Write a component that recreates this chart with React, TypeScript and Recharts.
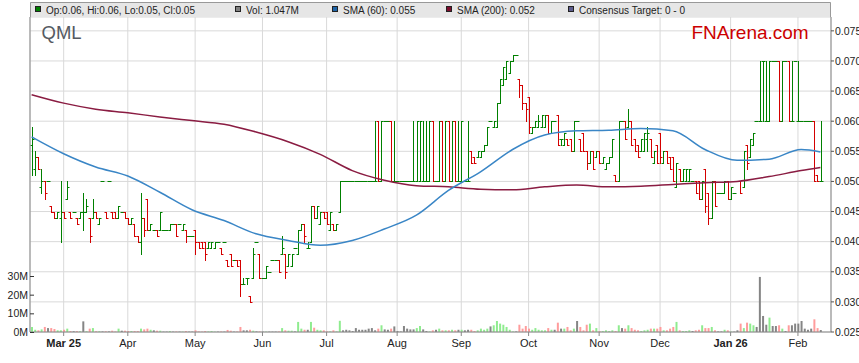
import React from "react";
import { ComposedChart, Bar, Line, XAxis, YAxis, CartesianGrid, Cell } from "recharts";

// QML daily bars, Feb 2025 - Feb 2026 (prices in $, volume in millions of shares)
const opens = [
  0.056, 0.052, 0.054, 0.049, 0.050, 0.050, 0.046, 0.045, 0.044, 0.044,
  0.045, 0.047, 0.045, 0.045, 0.044, 0.044, 0.045, 0.045, 0.044, 0.044,
  0.045, 0.043, 0.050, 0.045, 0.050, 0.045, 0.045, 0.044, 0.045, 0.045,
  0.044, 0.043, 0.043, 0.041, 0.040, 0.044, 0.047, 0.042, 0.042, 0.042,
  0.042, 0.042, 0.042, 0.042, 0.043, 0.043, 0.043, 0.042, 0.042, 0.041,
  0.041, 0.042, 0.040, 0.040, 0.040, 0.039, 0.039, 0.039, 0.040, 0.039,
  0.040, 0.037, 0.038, 0.037, 0.037, 0.037, 0.033, 0.034, 0.031, 0.034,
  0.040, 0.038, 0.034, 0.034, 0.035, 0.037, 0.037, 0.037, 0.038, 0.038,
  0.036, 0.036, 0.039, 0.038, 0.042, 0.043, 0.039, 0.040, 0.046, 0.044,
  0.043, 0.045, 0.045, 0.042, 0.043, 0.042, 0.045, 0.050, 0.050, 0.050,
  0.050, 0.050, 0.050, 0.050, 0.050, 0.050, 0.050, 0.050, 0.060, 0.050,
  0.060, 0.060, 0.060, 0.050, 0.050, 0.050, 0.050, 0.050, 0.050, 0.050,
  0.050, 0.050, 0.050, 0.050, 0.050, 0.060, 0.050, 0.050, 0.060, 0.050,
  0.060, 0.050, 0.060, 0.050, 0.050, 0.050, 0.050, 0.055, 0.054, 0.054,
  0.054, 0.055, 0.056, 0.060, 0.059, 0.059, 0.063, 0.066, 0.067, 0.068,
  0.070, 0.071, 0.067, 0.066, 0.063, 0.064, 0.058, 0.059, 0.059, 0.059,
  0.059, 0.061, 0.058, 0.060, 0.061, 0.057, 0.056, 0.057, 0.057, 0.055,
  0.060, 0.057, 0.058, 0.055, 0.053, 0.055, 0.054, 0.055, 0.053, 0.052,
  0.053, 0.054, 0.051, 0.050, 0.060, 0.060, 0.059, 0.060, 0.057, 0.056,
  0.055, 0.055, 0.057, 0.057, 0.053, 0.056, 0.058, 0.053, 0.055, 0.054,
  0.054, 0.049, 0.052, 0.050, 0.050, 0.050, 0.050, 0.050, 0.050, 0.047,
  0.052, 0.048, 0.044, 0.050, 0.048, 0.048, 0.048, 0.050, 0.047, 0.048,
  0.050, 0.050, 0.049, 0.056, 0.054, 0.056, 0.060, 0.060, 0.070, 0.060,
  0.060, 0.070, 0.070, 0.070, 0.060, 0.070, 0.070, 0.060, 0.070, 0.060,
  0.060, 0.060, 0.060, 0.060, 0.060, 0.051, 0.050,
];
const highs = [
  0.059, 0.055, 0.054, 0.052, 0.050, 0.050, 0.046, 0.045, 0.045, 0.050,
  0.045, 0.050, 0.045, 0.045, 0.044, 0.045, 0.048, 0.047, 0.044, 0.047,
  0.045, 0.044, 0.050, 0.045, 0.050, 0.045, 0.045, 0.046, 0.045, 0.045,
  0.044, 0.044, 0.043, 0.041, 0.048, 0.044, 0.047, 0.043, 0.042, 0.042,
  0.045, 0.042, 0.042, 0.043, 0.043, 0.043, 0.043, 0.043, 0.042, 0.041,
  0.041, 0.042, 0.040, 0.040, 0.040, 0.040, 0.040, 0.040, 0.040, 0.039,
  0.040, 0.037, 0.038, 0.037, 0.037, 0.037, 0.034, 0.034, 0.031, 0.039,
  0.040, 0.038, 0.034, 0.036, 0.035, 0.037, 0.037, 0.037, 0.041, 0.038,
  0.038, 0.038, 0.039, 0.042, 0.043, 0.043, 0.040, 0.046, 0.046, 0.046,
  0.045, 0.045, 0.045, 0.045, 0.043, 0.043, 0.050, 0.050, 0.050, 0.050,
  0.050, 0.050, 0.050, 0.050, 0.050, 0.050, 0.050, 0.060, 0.060, 0.060,
  0.060, 0.060, 0.060, 0.060, 0.050, 0.050, 0.050, 0.050, 0.050, 0.060,
  0.060, 0.060, 0.060, 0.060, 0.060, 0.060, 0.050, 0.060, 0.060, 0.060,
  0.060, 0.060, 0.060, 0.060, 0.060, 0.050, 0.060, 0.055, 0.054, 0.055,
  0.055, 0.056, 0.059, 0.060, 0.060, 0.063, 0.067, 0.069, 0.070, 0.070,
  0.071, 0.071, 0.067, 0.066, 0.063, 0.064, 0.059, 0.060, 0.061, 0.061,
  0.061, 0.061, 0.060, 0.060, 0.061, 0.057, 0.058, 0.057, 0.057, 0.060,
  0.060, 0.057, 0.058, 0.055, 0.055, 0.055, 0.055, 0.055, 0.054, 0.053,
  0.054, 0.057, 0.051, 0.060, 0.060, 0.060, 0.062, 0.060, 0.057, 0.056,
  0.057, 0.058, 0.059, 0.057, 0.055, 0.056, 0.058, 0.055, 0.055, 0.054,
  0.054, 0.053, 0.052, 0.052, 0.052, 0.052, 0.050, 0.050, 0.050, 0.050,
  0.052, 0.048, 0.050, 0.050, 0.048, 0.048, 0.050, 0.050, 0.049, 0.048,
  0.050, 0.050, 0.055, 0.056, 0.057, 0.058, 0.060, 0.070, 0.070, 0.070,
  0.070, 0.070, 0.070, 0.070, 0.070, 0.070, 0.070, 0.070, 0.070, 0.070,
  0.060, 0.060, 0.060, 0.060, 0.060, 0.051, 0.060,
];
const lows = [
  0.051, 0.051, 0.052, 0.048, 0.047, 0.050, 0.045, 0.044, 0.044, 0.040,
  0.044, 0.047, 0.044, 0.045, 0.043, 0.044, 0.042, 0.045, 0.040, 0.044,
  0.044, 0.043, 0.050, 0.044, 0.050, 0.044, 0.044, 0.044, 0.045, 0.044,
  0.043, 0.043, 0.041, 0.040, 0.038, 0.041, 0.042, 0.042, 0.042, 0.041,
  0.042, 0.042, 0.042, 0.042, 0.043, 0.041, 0.043, 0.042, 0.040, 0.041,
  0.041, 0.038, 0.039, 0.039, 0.037, 0.039, 0.039, 0.039, 0.040, 0.038,
  0.040, 0.036, 0.036, 0.037, 0.036, 0.031, 0.033, 0.033, 0.030, 0.034,
  0.040, 0.034, 0.034, 0.034, 0.035, 0.037, 0.037, 0.035, 0.038, 0.034,
  0.036, 0.036, 0.039, 0.038, 0.042, 0.040, 0.039, 0.040, 0.044, 0.044,
  0.043, 0.044, 0.043, 0.042, 0.042, 0.042, 0.045, 0.050, 0.050, 0.050,
  0.050, 0.050, 0.050, 0.050, 0.050, 0.050, 0.050, 0.050, 0.050, 0.050,
  0.060, 0.060, 0.050, 0.050, 0.050, 0.050, 0.050, 0.050, 0.050, 0.050,
  0.050, 0.050, 0.050, 0.050, 0.050, 0.050, 0.050, 0.050, 0.050, 0.050,
  0.050, 0.050, 0.050, 0.050, 0.050, 0.050, 0.050, 0.053, 0.053, 0.054,
  0.054, 0.055, 0.056, 0.060, 0.059, 0.059, 0.063, 0.066, 0.067, 0.068,
  0.070, 0.071, 0.064, 0.062, 0.060, 0.058, 0.058, 0.059, 0.059, 0.059,
  0.059, 0.058, 0.058, 0.060, 0.056, 0.056, 0.056, 0.056, 0.055, 0.055,
  0.060, 0.055, 0.055, 0.052, 0.053, 0.052, 0.054, 0.053, 0.053, 0.052,
  0.053, 0.054, 0.050, 0.050, 0.060, 0.057, 0.059, 0.056, 0.055, 0.054,
  0.055, 0.055, 0.055, 0.054, 0.053, 0.053, 0.053, 0.053, 0.053, 0.052,
  0.050, 0.049, 0.050, 0.050, 0.050, 0.050, 0.050, 0.048, 0.047, 0.047,
  0.045, 0.043, 0.044, 0.046, 0.048, 0.048, 0.048, 0.047, 0.047, 0.048,
  0.050, 0.048, 0.049, 0.052, 0.054, 0.056, 0.060, 0.060, 0.060, 0.060,
  0.060, 0.070, 0.070, 0.060, 0.060, 0.070, 0.060, 0.060, 0.070, 0.060,
  0.060, 0.060, 0.060, 0.060, 0.050, 0.050, 0.050,
];
const closes = [
  0.057, 0.054, 0.052, 0.050, 0.048, 0.050, 0.045, 0.044, 0.045, 0.045,
  0.044, 0.049, 0.044, 0.045, 0.043, 0.045, 0.045, 0.046, 0.041, 0.045,
  0.044, 0.044, 0.050, 0.044, 0.050, 0.044, 0.044, 0.046, 0.045, 0.044,
  0.043, 0.044, 0.041, 0.040, 0.044, 0.042, 0.042, 0.043, 0.042, 0.041,
  0.045, 0.042, 0.042, 0.043, 0.043, 0.041, 0.043, 0.043, 0.041, 0.041,
  0.041, 0.040, 0.039, 0.039, 0.038, 0.040, 0.040, 0.040, 0.040, 0.038,
  0.040, 0.036, 0.036, 0.037, 0.036, 0.033, 0.033, 0.034, 0.030, 0.038,
  0.040, 0.034, 0.034, 0.036, 0.035, 0.037, 0.037, 0.035, 0.039, 0.035,
  0.038, 0.038, 0.039, 0.042, 0.043, 0.041, 0.039, 0.046, 0.044, 0.046,
  0.045, 0.044, 0.043, 0.045, 0.042, 0.043, 0.050, 0.050, 0.050, 0.050,
  0.050, 0.050, 0.050, 0.050, 0.050, 0.050, 0.050, 0.050, 0.050, 0.060,
  0.060, 0.060, 0.050, 0.050, 0.050, 0.050, 0.050, 0.050, 0.050, 0.050,
  0.060, 0.060, 0.050, 0.050, 0.060, 0.050, 0.050, 0.060, 0.050, 0.060,
  0.050, 0.060, 0.050, 0.050, 0.060, 0.050, 0.050, 0.053, 0.053, 0.055,
  0.055, 0.056, 0.059, 0.060, 0.060, 0.063, 0.067, 0.069, 0.070, 0.070,
  0.071, 0.071, 0.066, 0.063, 0.062, 0.059, 0.059, 0.060, 0.060, 0.061,
  0.061, 0.058, 0.060, 0.060, 0.056, 0.057, 0.058, 0.056, 0.055, 0.060,
  0.060, 0.055, 0.055, 0.053, 0.055, 0.052, 0.055, 0.053, 0.054, 0.053,
  0.054, 0.057, 0.050, 0.060, 0.060, 0.057, 0.060, 0.056, 0.055, 0.054,
  0.057, 0.058, 0.058, 0.054, 0.055, 0.053, 0.054, 0.055, 0.053, 0.052,
  0.050, 0.053, 0.050, 0.052, 0.052, 0.052, 0.050, 0.048, 0.047, 0.050,
  0.046, 0.044, 0.050, 0.046, 0.048, 0.048, 0.050, 0.047, 0.049, 0.048,
  0.050, 0.048, 0.055, 0.053, 0.057, 0.058, 0.060, 0.060, 0.070, 0.060,
  0.070, 0.070, 0.070, 0.060, 0.070, 0.070, 0.060, 0.060, 0.070, 0.060,
  0.060, 0.060, 0.060, 0.060, 0.050, 0.050, 0.050,
];
const volumes = [
  2.7, 1.2, 0.9, 1.4, 2.7, 2.1, 2.1, 1.6, 0.9, 0.9,
  1.2, 1.8, 0.5, 0.4, 0.5, 0.4, 5.7, 0.4, 1.8, 2.1,
  0.4, 0.4, 0.3, 0.4, 0.3, 0.7, 0.3, 1.8, 0.7, 0.7,
  0.5, 0.5, 0.5, 0.5, 1.8, 1.4, 1.8, 1.2, 0.9, 0.7,
  0.7, 0.2, 0.2, 0.5, 0.2, 0.3, 0.2, 0.2, 0.5, 0.2,
  0.2, 0.9, 0.3, 0.2, 0.5, 0.3, 0.5, 0.2, 0.2, 0.3,
  0.2, 1.1, 0.7, 0.2, 0.3, 2.7, 0.9, 0.9, 1.2, 0.7,
  0.3, 0.3, 0.2, 0.2, 0.2, 0.2, 0.2, 0.3, 2.1, 0.9,
  0.7, 0.7, 0.3, 5.4, 1.8, 1.2, 1.2, 5.4, 2.3, 1.2,
  0.9, 0.9, 0.3, 0.3, 0.9, 0.3, 6.0, 0.9, 1.2, 0.9,
  0.5, 2.1, 1.2, 1.2, 1.2, 1.8, 2.1, 0.9, 1.8, 3.6,
  1.4, 1.2, 1.8, 3.0, 0.5, 0.3, 3.2, 1.8, 1.4, 1.4,
  2.1, 3.2, 1.4, 0.5, 0.3, 0.9, 1.2, 1.8, 0.9, 0.9,
  0.9, 1.2, 0.9, 1.2, 1.2, 0.9, 1.2, 1.2, 0.5, 0.9,
  1.8, 1.2, 1.8, 3.0, 3.6, 5.9, 4.5, 3.9, 2.7, 1.2,
  0.3, 0.3, 3.9, 1.8, 3.2, 1.8, 1.2, 2.1, 1.2, 0.9,
  0.9, 2.1, 1.2, 1.2, 5.0, 1.8, 1.8, 2.7, 0.9, 1.8,
  5.9, 2.7, 0.9, 3.9, 4.5, 0.9, 2.1, 0.5, 0.5, 0.9,
  0.5, 0.9, 0.5, 3.6, 2.1, 1.8, 3.6, 2.1, 1.2, 0.9,
  0.5, 0.9, 1.2, 1.8, 1.8, 1.8, 2.7, 0.9, 0.9, 1.8,
  2.7, 5.4, 0.9, 0.5, 0.5, 0.9, 0.5, 0.9, 1.2, 3.6,
  2.1, 2.1, 2.7, 0.9, 0.3, 0.3, 1.2, 0.9, 0.2, 0.2,
  0.9, 4.5, 2.1, 5.0, 4.5, 3.6, 2.7, 29.5, 8.6, 3.9,
  7.7, 3.2, 3.2, 3.6, 1.8, 0.5, 3.6, 3.6, 4.5, 4.5,
  5.9, 1.8, 1.2, 1.8, 6.8, 2.1, 1.047,
];

// moving averages at these bar positions
const smaDays = [0, 10, 20, 30, 40, 50, 60, 70, 80, 90, 100, 110, 120, 130, 140, 150, 160, 170, 180, 190, 200, 210, 220, 230, 240, 246];
const sma60 = [
  0.0574, 0.0546, 0.0524, 0.0509, 0.0482, 0.0453, 0.0435, 0.0413, 0.0402, 0.0394,
  0.0402, 0.0421, 0.0444, 0.0485, 0.0516, 0.0553, 0.0577, 0.0584, 0.0585, 0.0588,
  0.0584, 0.0553, 0.0535, 0.0537, 0.0553, 0.0549,
];
const sma200 = [
  0.0644, 0.0630, 0.0620, 0.0614, 0.0607, 0.0601, 0.0595, 0.0582, 0.0566, 0.0545,
  0.0518, 0.0502, 0.0493, 0.0491, 0.0487, 0.0486, 0.0491, 0.0494, 0.0491, 0.0492,
  0.0495, 0.0498, 0.0500, 0.0508, 0.0518, 0.0523,
];

const monthTicks = [10, 30, 51, 72, 92, 114, 134, 155, 177, 196, 218, 239];
const monthLabels = ["Mar 25", "Apr", "May", "Jun", "Jul", "Aug", "Sep", "Oct", "Nov", "Dec", "Jan 26", "Feb"];
const priceTicks = [0.025, 0.03, 0.035, 0.04, 0.045, 0.05, 0.055, 0.06, 0.065, 0.07, 0.075];
const volumeTicks = [0, 10, 20, 30];

const FONT = '"Liberation Sans", Arial, sans-serif';
const GREEN = "#008000";
const RED = "#d40000";

const rows = opens.map((o, i) => {
  const k = smaDays.indexOf(i);
  return {
    i,
    o,
    h: highs[i],
    l: lows[i],
    c: closes[i],
    range: [lows[i], highs[i]],
    v: volumes[i],
    s60: k >= 0 ? sma60[k] : null,
    s200: k >= 0 ? sma200[k] : null,
  };
});

function OhlcShape(props: any) {
  const { x, y, width, height, payload } = props;
  if (x == null || y == null || !payload) return null;
  const top = Math.min(y, y + height);
  const bottom = Math.max(y, y + height);
  const span = payload.h - payload.l;
  const py = (v: number) => (span > 0 ? bottom - ((v - payload.l) / span) * (bottom - top) : top);
  const cx = Math.round(x + width / 2) + 0.5;
  const yo = Math.round(py(payload.o)) + 0.5;
  const yc = Math.round(py(payload.c)) + 0.5;
  const color = payload.c >= payload.o ? GREEN : RED;
  return (
    <g stroke={color} strokeWidth={1} fill="none">
      <line x1={cx} x2={cx} y1={Math.round(top)} y2={Math.round(bottom) + 1} />
      <line x1={cx - 2} x2={cx} y1={yo} y2={yo} />
      <line x1={cx} x2={cx + 2} y1={yc} y2={yc} />
    </g>
  );
}

function MonthTick(props: any) {
  const { x, y, payload } = props;
  const label = monthLabels[monthTicks.indexOf(payload.value)];
  return (
    <text x={x} y={y} dy={9} textAnchor="middle" fontSize={11} fontFamily={FONT} fill="#222"
      fontWeight={label && label.includes(" ") ? 700 : 400}>
      {label}
    </text>
  );
}

function VolTick(props: any) {
  const { x, y, payload } = props;
  return (
    <g>
      <line x1={x + 2} x2={x + 6} y1={y + 0.5} y2={y + 0.5} stroke="#333" />
      <text x={x} y={y} dy={4} textAnchor="end" fontSize={10.5} fontFamily={FONT} fill="#222">
        {payload.value}M
      </text>
    </g>
  );
}

function volColor(r: { o: number; c: number }) {
  if (r.c > r.o) return "#8fec8f";
  if (r.c < r.o) return "#ff9c9c";
  return "#858585";
}

const legendItems = [
  { x: 35, color: "#008000", text: "Op:0.06, Hi:0.06, Lo:0.05, Cl:0.05" },
  { x: 235, color: "#808080", text: "Vol: 1.047M" },
  { x: 332, color: "#1f65a8", text: "SMA (60): 0.055" },
  { x: 446, color: "#7c0c2c", text: "SMA (200): 0.052" },
  { x: 568, color: "#5c5c8e", text: "Consensus Target: 0 - 0" },
];

export default function App() {
  return (
    <div style={{ position: "absolute", left: 0, top: 0, width: 859, height: 363, background: "#fff" }}>
      <ComposedChart width={859} height={363} data={rows} margin={{ top: 17, right: 0, bottom: 0, left: 0 }}>
        <CartesianGrid yAxisId="price" stroke="#d9d9d9" />
        <XAxis
          dataKey="i"
          type="category"
          ticks={monthTicks}
          interval={0}
          padding={{ left: 0, right: 9 }}
          height={31}
          tickSize={4}
          tickMargin={2}
          axisLine={{ stroke: "#888" }}
          tickLine={{ stroke: "#888" }}
          tick={(p: any) => <MonthTick {...p} />}
        />
        <XAxis xAxisId="v" dataKey="i" type="category" hide padding={{ left: 0, right: 9 }} />
        <YAxis
          yAxisId="vol"
          orientation="left"
          width={30}
          domain={[0, 168.75]}
          ticks={volumeTicks}
          interval={0}
          allowDataOverflow
          tickLine={false}
          tickSize={0}
          tickMargin={2}
          axisLine={{ stroke: "#888" }}
          tick={(p: any) => <VolTick {...p} />}
        />
        <YAxis
          yAxisId="price"
          orientation="right"
          width={28}
          domain={[0.025, 0.0773]}
          ticks={priceTicks}
          interval={0}
          allowDataOverflow
          tickFormatter={(v: number) => v.toFixed(3)}
          tickSize={3}
          tickMargin={1}
          axisLine={{ stroke: "#888" }}
          tickLine={{ stroke: "#555" }}
          tick={{ fontSize: 10.5, fill: "#222", fontFamily: FONT }}
        />
        <Bar xAxisId="v" yAxisId="vol" dataKey="v" barSize={2} isAnimationActive={false}>
          {rows.map((r) => (
            <Cell key={r.i} fill={volColor(r)} />
          ))}
        </Bar>
        <Line yAxisId="price" dataKey="s200" type="monotone" stroke="#8a1c42" strokeWidth={1.5}
          dot={false} connectNulls isAnimationActive={false} />
        <Line yAxisId="price" dataKey="s60" type="monotone" stroke="#3a86c6" strokeWidth={1.5}
          dot={false} connectNulls isAnimationActive={false} />
        <Bar yAxisId="price" dataKey="range" shape={(p: any) => <OhlcShape {...p} />} isAnimationActive={false} />
      </ComposedChart>
      <svg width={859} height={363} style={{ position: "absolute", left: 0, top: 0, pointerEvents: "none" }}>
        <rect x={30} y={2} width={801} height={15} fill="#e6e6e6" />
        <path d="M30.5 17 V2.5 H830.5 V17" stroke="#999" fill="none" />
        {legendItems.map((it) => (
          <g key={it.text}>
            <rect x={it.x + 0.5} y={6.5} width={5} height={5} fill={it.color} stroke="#222" />
            <text x={it.x + 11} y={14} fontSize={10} fontFamily={FONT} fill="#222">{it.text}</text>
          </g>
        ))}
        <text x={41.5} y={39.3} fontSize={18.5} fontFamily={FONT} fill="#555a62">QML</text>
        <text x={691.5} y={38.5} fontSize={19} fontFamily={FONT} fill="#cc0000">FNArena.com</text>
      </svg>
    </div>
  );
}
